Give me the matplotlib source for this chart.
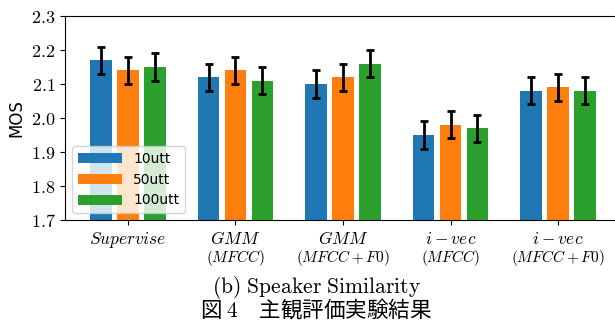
import numpy as np
import matplotlib
matplotlib.use("Agg")
import matplotlib.pyplot as plt
import matplotlib.transforms as mtransforms

plt.rcParams['mathtext.fontset'] = 'cm'

# data
groups = ["$Supervise$", "$GMM$", "$GMM$", "$i-vec$", "$i-vec$"]
subs = ["", "$(MFCC)$", "$(MFCC+F0)$", "$(MFCC)$", "$(MFCC+F0)$"]
series = ["10utt", "50utt", "100utt"]
mos_10 = [2.17, 2.12, 2.10, 1.95, 2.08]
mos_50 = [2.14, 2.14, 2.12, 1.98, 2.09]
mos_100 = [2.15, 2.11, 2.16, 1.97, 2.08]
err_10 = [0.04, 0.04, 0.04, 0.04, 0.04]
err_50 = [0.04, 0.04, 0.04, 0.04, 0.04]
err_100 = [0.04, 0.04, 0.04, 0.04, 0.04]
colors = ["#1f77b4", "#ff7f0e", "#2ca02c"]

fig = plt.figure(figsize=(6.15, 3.22), dpi=100)
ax = fig.add_axes([65/615, 102/322, 556/615, 204/322])
ax.spines['right'].set_visible(False)

x = np.arange(len(groups))
w = 0.2
vals = [mos_10, mos_50, mos_100]
errs = [err_10, err_50, err_100]
for i in range(3):
    ax.bar(x + (i - 1) * 0.25, vals[i], w, yerr=errs[i], color=colors[i],
           label=series[i], capsize=3,
           error_kw=dict(elinewidth=2, capthick=2, ecolor="black"))

ax.set_xlim(-0.585, 4.585)
ax.set_ylim(1.7, 2.3)
ax.set_yticks(np.arange(1.7, 2.31, 0.1))
ax.set_yticklabels(["$%.1f$" % v for v in np.arange(1.7, 2.31, 0.1)], fontsize=13)
ax.set_ylabel("MOS", fontsize=12)

ax.set_xticks(x)
ax.set_xticklabels(groups, fontsize=12.5)
trans = mtransforms.blended_transform_factory(ax.transData, fig.transFigure)
for i, s in enumerate(subs):
    if s:
        ax.text(x[i], 1 - 258/322, s, transform=trans, ha="center", va="center",
                fontsize=11)

ax.legend(loc="lower left", fontsize=10, handlelength=3.2, framealpha=0.8)

# caption block (two lines in one text)
caption = "$\\mathrm{(b)\\ Speaker\\ Similarity}$\n図 $\\mathbf{4}$　主観評価実験結果"
fig.text(316/615, 1 - 298/322, caption, ha="center", va="center",
         multialignment="center", linespacing=0.8, fontsize=15.5,
         family=["Noto Sans CJK JP", "DejaVu Sans"])

fig.savefig("out.png", dpi=100)
